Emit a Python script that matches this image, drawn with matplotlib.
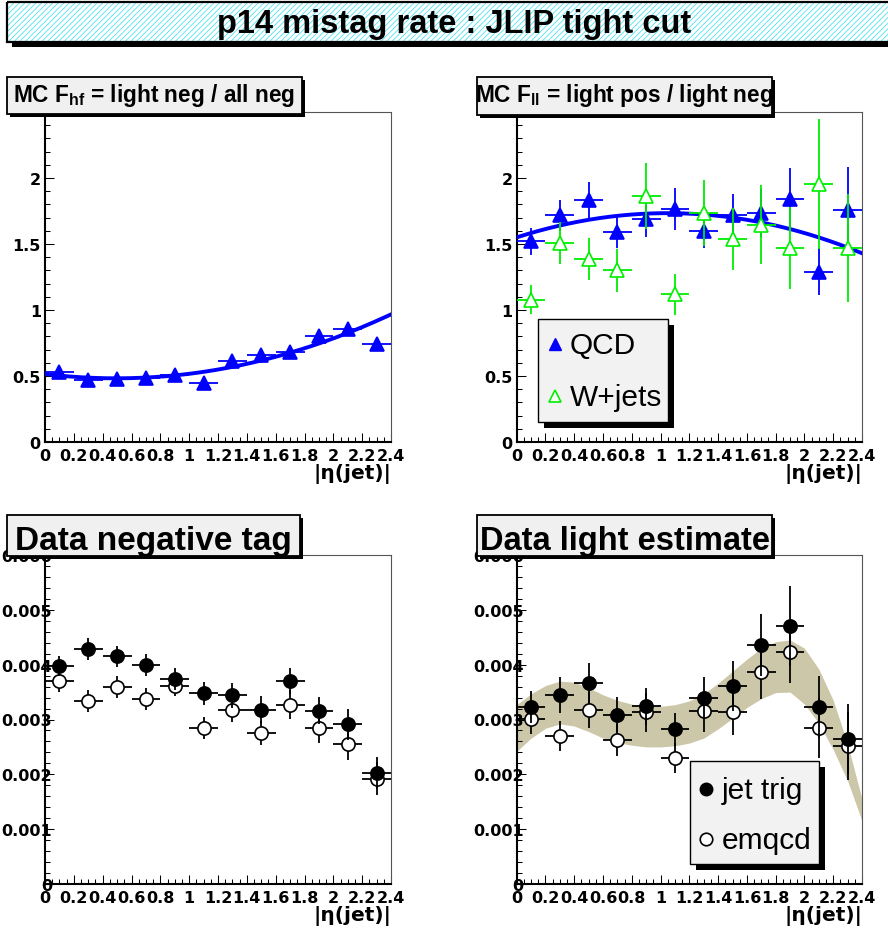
import numpy as np
import matplotlib
matplotlib.use('Agg')
import matplotlib.pyplot as plt
from matplotlib.patches import Rectangle
from matplotlib.ticker import MultipleLocator

plt.rcParams['font.family'] = ['Liberation Sans', 'DejaVu Sans']
plt.rcParams['mathtext.fontset'] = 'custom'
plt.rcParams['mathtext.rm'] = 'Liberation Sans:bold'
plt.rcParams['mathtext.bf'] = 'Liberation Sans:bold'
plt.rcParams['mathtext.it'] = 'Liberation Sans:bold'
plt.rcParams['hatch.linewidth'] = 0.5

W, H = 888, 937

# --- data ---
eta = [0.1, 0.3, 0.5, 0.7, 0.9, 1.1, 1.3, 1.5, 1.7, 1.9, 2.1, 2.3]
eta_halfbin = 0.1

xtick_pos = [0, 0.2, 0.4, 0.6, 0.8, 1.0, 1.2, 1.4, 1.6, 1.8, 2.0, 2.2, 2.4]
xtick_labels = ['0', '0.2', '0.4', '0.6', '0.8', '1', '1.2', '1.4', '1.6', '1.8', '2', '2.2', '2.4']

# MC F_hf (QCD)
fhf_qcd = [0.53, 0.47, 0.48, 0.486, 0.506, 0.45, 0.61, 0.66, 0.68, 0.80, 0.856, 0.74]
fhf_qcd_err = [0.01, 0.01, 0.01, 0.01, 0.01, 0.012, 0.013, 0.014, 0.015, 0.02, 0.022, 0.03]
fhf_fit = [0.515, -0.1317, 0.1333]          # pol2: p0, p1, p2

# MC F_ll
fll_qcd = [1.52, 1.716, 1.835, 1.59, 1.69, 1.767, 1.60, 1.716, 1.734, 1.843, 1.29, 1.76]
fll_qcd_err = [0.10, 0.12, 0.135, 0.12, 0.14, 0.16, 0.13, 0.16, 0.18, 0.235, 0.18, 0.32]
fll_wjets = [1.076, 1.51, 1.385, 1.30, 1.866, 1.12, 1.734, 1.54, 1.646, 1.47, 1.955, 1.47]
fll_wjets_err = [0.11, 0.16, 0.16, 0.16, 0.25, 0.155, 0.25, 0.235, 0.30, 0.31, 0.49, 0.41]
fll_fit = [1.55, 0.35, -0.1667]

# Data negative tag rate (x 1e-3)
neg_jettrig = [3.98, 4.28, 4.15, 3.99, 3.74, 3.48, 3.44, 3.18, 3.70, 3.16, 2.91, 2.02]
neg_jettrig_err = [0.18, 0.20, 0.19, 0.20, 0.20, 0.21, 0.23, 0.24, 0.24, 0.25, 0.28, 0.29]
neg_emqcd = [3.70, 3.33, 3.59, 3.38, 3.62, 2.85, 3.18, 2.76, 3.27, 2.84, 2.56, 1.92]
neg_emqcd_err = [0.20, 0.20, 0.20, 0.20, 0.19, 0.20, 0.22, 0.22, 0.26, 0.26, 0.29, 0.30]

# Data light estimate (x 1e-3)
light_jettrig = [3.23, 3.45, 3.67, 3.09, 3.24, 2.82, 3.39, 3.61, 4.36, 4.70, 3.23, 2.65]
light_jettrig_err = [0.29, 0.33, 0.36, 0.32, 0.34, 0.30, 0.38, 0.45, 0.57, 0.73, 0.57, 0.64]
light_emqcd = [3.01, 2.70, 3.18, 2.62, 3.13, 2.30, 3.15, 3.13, 3.86, 4.24, 2.85, 2.52]
light_emqcd_err = [0.28, 0.27, 0.33, 0.29, 0.36, 0.28, 0.37, 0.42, 0.49, 0.58, 0.55, 0.62]

# fit uncertainty band (x 1e-3)
band_eta = [0.0, 0.1, 0.2, 0.3, 0.4, 0.5, 0.6, 0.7, 0.8, 0.9, 1.0, 1.1, 1.2,
            1.3, 1.4, 1.5, 1.6, 1.7, 1.8, 1.9, 2.0, 2.1, 2.2, 2.3, 2.4]
band_hi = [3.27, 3.47, 3.62, 3.70, 3.68, 3.58, 3.45, 3.35, 3.28, 3.24, 3.24, 3.27, 3.34,
           3.47, 3.66, 3.88, 4.10, 4.30, 4.42, 4.45, 4.30, 3.92, 3.35, 2.55, 1.55]
band_lo = [2.42, 2.66, 2.84, 2.92, 2.88, 2.78, 2.66, 2.58, 2.53, 2.50, 2.50, 2.52, 2.57,
           2.66, 2.83, 3.02, 3.22, 3.38, 3.49, 3.50, 3.28, 2.93, 2.45, 1.88, 1.15]

rate_scale = 1e-3

fig = plt.figure(figsize=(W / 100, H / 100), dpi=100)
fig.patch.set_facecolor('white')


def px_axes(x0, y0, x1, y1):
    return fig.add_axes([x0 / W, 1 - y1 / H, (x1 - x0) / W, (y1 - y0) / H])


def style_axes(ax, ylim, ymajor, ylabels, yminor, ypad):
    ax.set_xlim(0, 2.4)
    ax.set_ylim(*ylim)
    ax.tick_params(which='both', direction='in', top=False, right=False,
                   width=0.75, color='black', labelfontfamily='DejaVu Sans',
                   labelsize=11.5)
    ax.tick_params(which='major', length=6.5)
    ax.tick_params(which='minor', length=3.5)
    ax.tick_params(axis='x', pad=4.5)
    ax.tick_params(axis='y', pad=ypad)
    ax.set_xticks(xtick_pos, xtick_labels)
    ax.xaxis.set_minor_locator(MultipleLocator(0.05))
    ax.set_yticks(ymajor, ylabels)
    ax.yaxis.set_minor_locator(MultipleLocator(yminor))
    for lab in ax.get_xticklabels() + ax.get_yticklabels():
        lab.set_fontweight('bold')
    for s in ['left', 'bottom']:
        ax.spines[s].set_linewidth(1.5)
        ax.spines[s].set_color('black')
    for s in ['top', 'right']:
        ax.spines[s].set_linewidth(0.8)
        ax.spines[s].set_color('#555555')
    ax.set_xlabel('|η(jet)|', fontsize=14.5, fontweight='bold', family='DejaVu Sans')
    ax.xaxis.set_label_coords(1.0, -21 / 330)
    ax.xaxis.label.set_horizontalalignment('right')
    ax.xaxis.label.set_verticalalignment('top')


def errpoints(ax, x, y, yerr, color, face, marker, ms, z=3):
    ax.errorbar(x, y, yerr=yerr, xerr=eta_halfbin, fmt='none', ecolor=color,
                elinewidth=1.3, capsize=0, zorder=z)
    ax.plot(x, y, linestyle='none', marker=marker, ms=ms, mfc=face, mec=color,
            mew=1.2, zorder=z + 0.5)


xfine = np.linspace(0, 2.4, 200)

# --- panel 1: MC F_hf ---
ax1 = px_axes(45, 113, 391, 443)
style_axes(ax1, (0, 2.5), [0, 0.5, 1, 1.5, 2], ['0', '0.5', '1', '1.5', '2'], 0.1, 3)
errpoints(ax1, eta, fhf_qcd, fhf_qcd_err, '#0000ff', '#0000ff', '^', 10)
ax1.plot(xfine, np.polynomial.polynomial.polyval(xfine, fhf_fit), color='#0000ff', lw=2.8, zorder=5)

# --- panel 2: MC F_ll ---
ax2 = px_axes(516.7, 113, 862, 443)
style_axes(ax2, (0, 2.5), [0, 0.5, 1, 1.5, 2], ['0', '0.5', '1', '1.5', '2'], 0.1, 3)
errpoints(ax2, eta, fll_qcd, fll_qcd_err, '#0000ff', '#0000ff', '^', 10)
ax2.plot(xfine, np.polynomial.polynomial.polyval(xfine, fll_fit), color='#0000ff', lw=2.8, zorder=5)
errpoints(ax2, eta, fll_wjets, fll_wjets_err, '#00ee00', 'white', '^', 10, z=6)

rate_ticks = [0, 0.001, 0.002, 0.003, 0.004, 0.005, 0.006]
rate_labels = ['0', '0.001', '0.002', '0.003', '0.004', '0.005', '0.006']

# --- panel 3: data negative tag ---
ax3 = px_axes(45, 556, 391, 885)
style_axes(ax3, (0, 0.006), rate_ticks, rate_labels, 0.0002, -5)
errpoints(ax3, eta, np.array(neg_emqcd) * rate_scale, np.array(neg_emqcd_err) * rate_scale,
          'black', 'white', 'o', 9.5)
errpoints(ax3, eta, np.array(neg_jettrig) * rate_scale, np.array(neg_jettrig_err) * rate_scale,
          'black', 'black', 'o', 9.5, z=5)

# --- panel 4: data light estimate ---
ax4 = px_axes(516.7, 556, 862, 885)
style_axes(ax4, (0, 0.006), rate_ticks, rate_labels, 0.0002, -5)
ax4.fill_between(band_eta, np.array(band_lo) * rate_scale, np.array(band_hi) * rate_scale,
                 color='#cdc7aa', lw=0, zorder=1)
errpoints(ax4, eta, np.array(light_emqcd) * rate_scale, np.array(light_emqcd_err) * rate_scale,
          'black', 'white', 'o', 9.5)
errpoints(ax4, eta, np.array(light_jettrig) * rate_scale, np.array(light_jettrig_err) * rate_scale,
          'black', 'black', 'o', 9.5, z=5)

# --- overlay in pixel coordinates for boxes ---
ov = fig.add_axes([0, 0, 1, 1], zorder=10)
ov.set_xlim(0, W)
ov.set_ylim(H, 0)
ov.axis('off')


def box(x0, y0, x1, y1, face, shadow, lw=1.3):
    ov.add_patch(Rectangle((x0 + shadow, y0 + shadow), x1 - x0, y1 - y0,
                           facecolor='black', edgecolor='none'))
    ov.add_patch(Rectangle((x0, y0), x1 - x0, y1 - y0, facecolor=face,
                           edgecolor='black', lw=lw))


# main title
ov.add_patch(Rectangle((12, 8), 890, 40, facecolor='black', edgecolor='none'))
ov.add_patch(Rectangle((7, 3), 890, 40, facecolor='white', edgecolor='#30e0ee',
                       hatch='//////', lw=0))
ov.add_patch(Rectangle((7, 3), 890, 40, facecolor='none', edgecolor='black', lw=1.6))
ov.text(454, 24, 'p14 mistag rate : JLIP tight cut', ha='center', va='center',
        fontsize=23.5, fontweight='bold')

# panel titles
box(7, 78, 302, 115, '#f0f0f0', 3)
ov.text(154.5, 102, r'MC $\mathrm{F_{hf}}$ = light neg / all neg', ha='center',
        va='baseline', fontsize=16.3, fontweight='bold')
box(477, 78, 772, 116, '#f0f0f0', 3)
ov.text(624.5, 102, r'MC $\mathrm{F_{ll}}$ = light pos / light neg', ha='center',
        va='baseline', fontsize=16.3, fontweight='bold')
box(7, 516, 300, 557, '#f0f0f0', 3)
ov.text(153.5, 550, 'Data negative tag', ha='center', va='baseline',
        fontsize=24, fontweight='bold')
box(477, 516, 772, 557, '#f0f0f0', 3)
ov.text(624.5, 550, 'Data light estimate', ha='center', va='baseline',
        fontsize=23.5, fontweight='bold')

# legend panel 2
box(538, 320, 668, 423, '#f2f2f2', 6, lw=1.0)
ov.plot([555], [345], marker='^', ms=9, mfc='#0000ff', mec='#0000ff', ls='none')
ov.text(570, 346, 'QCD', va='center', ha='left', fontsize=21.5)
ov.plot([555], [397], marker='^', ms=9, mfc='white', mec='#00ee00', mew=1.2, ls='none')
ov.text(570, 398, 'W+jets', va='center', ha='left', fontsize=21.5)

# legend panel 4
box(690, 762, 819, 865, '#f2f2f2', 6, lw=1.0)
ov.plot([706], [790], marker='o', ms=9, mfc='black', mec='black', ls='none')
ov.text(722, 791, 'jet trig', va='center', ha='left', fontsize=21.5)
ov.plot([706], [840], marker='o', ms=9, mfc='white', mec='black', mew=1.2, ls='none')
ov.text(722, 841, 'emqcd', va='center', ha='left', fontsize=21.5)

fig.savefig('out.png', dpi=100)
